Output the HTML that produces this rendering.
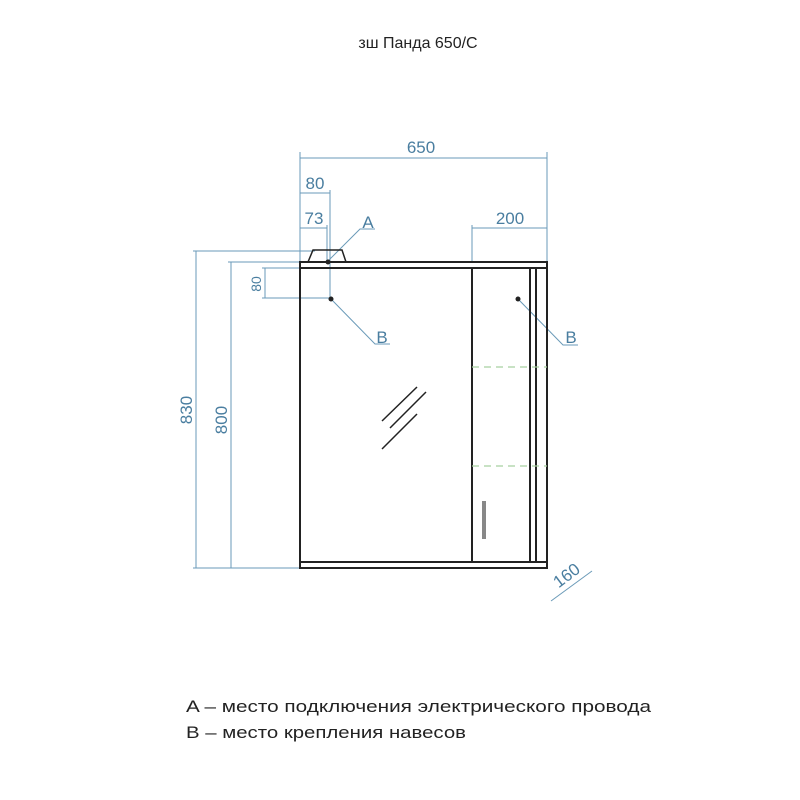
<!DOCTYPE html>
<html><head><meta charset="utf-8"><style>html,body{margin:0;padding:0;background:#fff}svg{display:block}</style></head>
<body>
<svg width="800" height="800" viewBox="0 0 800 800" xmlns="http://www.w3.org/2000/svg" font-family="Liberation Sans, sans-serif">
<rect width="800" height="800" fill="#fff"/>
<text x="418" y="48" font-size="16" text-anchor="middle" fill="#222">зш Панда 650/С</text>
<g stroke="#6a9ab8" stroke-width="1" fill="none">
<line x1="300" y1="152" x2="300" y2="262"/><line x1="547" y1="152" x2="547" y2="262"/>
<line x1="300" y1="158" x2="547" y2="158"/>
<line x1="330" y1="190" x2="330" y2="299"/><line x1="327" y1="225" x2="327" y2="262"/>
<line x1="300" y1="193" x2="330" y2="193"/><line x1="300" y1="228" x2="327" y2="228"/>
<line x1="472" y1="225" x2="472" y2="262"/><line x1="472" y1="228" x2="547" y2="228"/>
<line x1="193" y1="251" x2="315" y2="251"/><line x1="196" y1="251" x2="196" y2="568"/>
<line x1="228" y1="262" x2="300" y2="262"/><line x1="231" y1="262" x2="231" y2="568"/>
<line x1="193" y1="568" x2="300" y2="568"/>
<line x1="262" y1="268" x2="300" y2="268"/><line x1="262" y1="298" x2="330" y2="298"/>
<line x1="265" y1="268" x2="265" y2="298"/>
<polyline points="327,262 360,229 375,229"/>
<polyline points="331,299 375,344 390,344"/>
<polyline points="518,299 563,345 578,345"/>
<line x1="551" y1="601" x2="592" y2="571"/>
</g>
<g fill="#4a7ea0" font-size="17">
<text x="421" y="153" text-anchor="middle">650</text>
<text x="315" y="189" text-anchor="middle">80</text>
<text x="314" y="224" text-anchor="middle">73</text>
<text x="510" y="224" text-anchor="middle">200</text>
<text x="368" y="228" text-anchor="middle">A</text>
<text x="382" y="343" text-anchor="middle">B</text>
<text x="571" y="343" text-anchor="middle">B</text>
<text transform="translate(192,410) rotate(-90)" text-anchor="middle">830</text>
<text transform="translate(227,420) rotate(-90)" text-anchor="middle">800</text>
<text transform="translate(261,284) rotate(-90)" text-anchor="middle" font-size="14">80</text>
<text transform="translate(570,580) rotate(-37)" text-anchor="middle">160</text>
</g>
<g stroke="#222" stroke-width="2" fill="none">
<rect x="300" y="262" width="247" height="6"/>
<line x1="300" y1="268" x2="300" y2="562"/>
<line x1="547" y1="268" x2="547" y2="562"/>
<line x1="472" y1="268" x2="472" y2="562"/>
<line x1="530" y1="268" x2="530" y2="562"/>
<line x1="536" y1="268" x2="536" y2="562"/>
<rect x="300" y="562" width="247" height="6"/>
<polyline points="308,262 313,250 342,250 346,262" stroke-width="1.5"/>
<line x1="382" y1="421" x2="417" y2="387" stroke-width="1.5"/>
<line x1="390" y1="428" x2="426" y2="392" stroke-width="1.5"/>
<line x1="382" y1="449" x2="417" y2="414" stroke-width="1.5"/>
</g>
<g stroke="#a8d0a0" stroke-width="1.2" stroke-dasharray="7,5">
<line x1="472" y1="367" x2="547" y2="367"/><line x1="472" y1="466" x2="547" y2="466"/>
</g>
<rect x="482" y="501" width="4" height="38" fill="#888"/>
<g fill="#222"><circle cx="328" cy="262" r="2.5"/><circle cx="331" cy="299" r="2.5"/><circle cx="518" cy="299" r="2.5"/></g>
<g fill="#222" font-size="17">
<text x="186" y="712" textLength="465" lengthAdjust="spacingAndGlyphs">A – место подключения электрического провода</text>
<text x="186" y="738" textLength="280" lengthAdjust="spacingAndGlyphs">B – место крепления навесов</text>
</g>
</svg>
</body></html>
